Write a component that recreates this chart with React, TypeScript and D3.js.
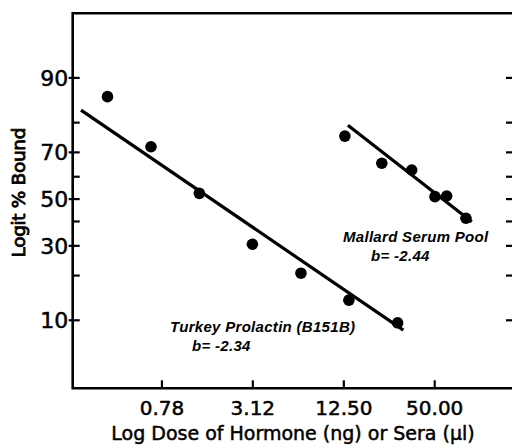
import React, { useEffect, useRef } from 'react';
import * as d3 from 'd3';

// values (dose in ng or ul, % bound)
const turkeyDose = [0.34, 0.66, 1.38, 3.1, 6.5, 13.5, 28.4];
const turkeyBound = [86.5, 72.1, 52.6, 30.6, 20.7, 13.8, 9.6];
const mallardDose = [12.7, 22.3, 35.2, 50.2, 60.0, 80.5];
const mallardBound = [75.8, 65.7, 62.9, 51.1, 51.4, 41.4];

// fitted lines (end points)
const turkeyFitDose = [0.227, 31];
const turkeyFitBound = [83.4, 8.5];
const mallardFitDose = [13.3, 88];
const mallardFitBound = [79.2, 39.9];

const xTicks = [0.78, 3.12, 12.5, 50];
const xTickLabels = ['0.78', '3.12', '12.50', '50.00'];
const yTicks = [10, 20, 30, 40, 50, 60, 70, 80, 90];
const yLabelled = [10, 30, 50, 70, 90];

const App = () => {
  const ref = useRef<SVGSVGElement>(null);

  useEffect(() => {
    const svg = d3.select(ref.current);
    svg.selectAll('*').remove();

    const left = 72.7;
    const right = 513;
    const frameRight = 516;
    const top = 13.3;
    const bottom = 388.3;

    // log x axis
    const x = d3.scaleLog().domain([0.2, 165]).range([left, right]);
    // logit y axis
    const logit = (p: number) => Math.log(p / 100 / (1 - p / 100));
    const yl = d3.scaleLinear().domain([logit(10), logit(90)]).range([320.3, 77.9]);
    const y = (p: number) => yl(logit(p));

    const font = 'DejaVu Sans, sans-serif';

    // frame
    svg.append('path')
      .attr('d', `M${left},${bottom} L${left},${top} L${frameRight},${top} L${frameRight},${bottom} Z`)
      .attr('fill', 'none')
      .attr('stroke', '#000')
      .attr('stroke-width', 2.6);

    // y ticks, both sides
    yTicks.forEach(t => {
      const major = yLabelled.includes(t);
      svg.append('line')
        .attr('x1', major ? left - 4 : left).attr('x2', left + 7)
        .attr('y1', y(t)).attr('y2', y(t))
        .attr('stroke', '#000').attr('stroke-width', 2.2);
      svg.append('line')
        .attr('x1', 506).attr('x2', frameRight)
        .attr('y1', y(t)).attr('y2', y(t))
        .attr('stroke', '#000').attr('stroke-width', 2.2);
    });

    svg.selectAll('.ylab')
      .data(yLabelled)
      .enter().append('text')
      .attr('x', left - 4.5)
      .attr('y', d => y(d))
      .attr('dy', '0.36em')
      .attr('text-anchor', 'end')
      .attr('font-family', font)
      .attr('font-size', 22)
      .attr('stroke', '#000').attr('stroke-width', 0.5)
      .text(d => d);

    // x ticks
    xTicks.forEach((t, i) => {
      svg.append('line')
        .attr('x1', x(t)).attr('x2', x(t))
        .attr('y1', bottom).attr('y2', bottom - 8)
        .attr('stroke', '#000').attr('stroke-width', 2.2);
      svg.append('text')
        .attr('x', x(t))
        .attr('y', 415)
        .attr('text-anchor', 'middle')
        .attr('font-family', font)
        .attr('font-size', 20)
        .attr('stroke', '#000').attr('stroke-width', 0.5)
        .text(xTickLabels[i]);
    });

    // axis titles
    svg.append('text')
      .attr('x', 293)
      .attr('y', 440)
      .attr('text-anchor', 'middle')
      .attr('font-family', font)
      .attr('font-size', 19)
      .attr('stroke', '#000').attr('stroke-width', 0.5)
      .text('Log Dose of Hormone (ng) or Sera (\u03bcl)');

    svg.append('text')
      .attr('transform', 'translate(25,192.5) rotate(-90)')
      .attr('text-anchor', 'middle')
      .attr('font-family', font)
      .attr('font-size', 18.5)
      .attr('stroke', '#000').attr('stroke-width', 0.8)
      .attr('textLength', 130)
      .text('Logit % Bound');

    // fit lines
    const line = d3.line<[number, number]>().x(d => x(d[0])).y(d => y(d[1]));
    svg.append('path')
      .attr('d', line(turkeyFitDose.map((d, i) => [d, turkeyFitBound[i]] as [number, number])))
      .attr('stroke', '#000').attr('stroke-width', 3.2).attr('fill', 'none');
    svg.append('path')
      .attr('d', line(mallardFitDose.map((d, i) => [d, mallardFitBound[i]] as [number, number])))
      .attr('stroke', '#000').attr('stroke-width', 3.2).attr('fill', 'none');

    // points
    svg.selectAll('.tp')
      .data(turkeyDose)
      .enter().append('circle')
      .attr('cx', d => x(d))
      .attr('cy', (d, i) => y(turkeyBound[i]))
      .attr('r', 5.8)
      .attr('fill', '#000');
    svg.selectAll('.mp')
      .data(mallardDose)
      .enter().append('circle')
      .attr('cx', d => x(d))
      .attr('cy', (d, i) => y(mallardBound[i]))
      .attr('r', 5.8)
      .attr('fill', '#000');

    // labels
    const lab = (tx: number, ty: number, s: string) =>
      svg.append('text')
        .attr('x', tx).attr('y', ty)
        .attr('font-family', 'Liberation Sans, sans-serif')
        .attr('font-style', 'italic')
        .attr('font-weight', 'bold')
        .attr('font-size', 15)
        .attr('letter-spacing', 0.3)
        .text(s);
    lab(343, 241.5, 'Mallard Serum Pool');
    lab(371, 261, 'b= -2.44');
    lab(170, 331.5, 'Turkey Prolactin (B151B)');
    lab(192, 351, 'b= -2.34');
  }, []);

  return (
    <svg ref={ref} width={512} height={448}
      style={{ position: 'absolute', left: 0, top: 0, background: '#fff' }} />
  );
};

export default App;
